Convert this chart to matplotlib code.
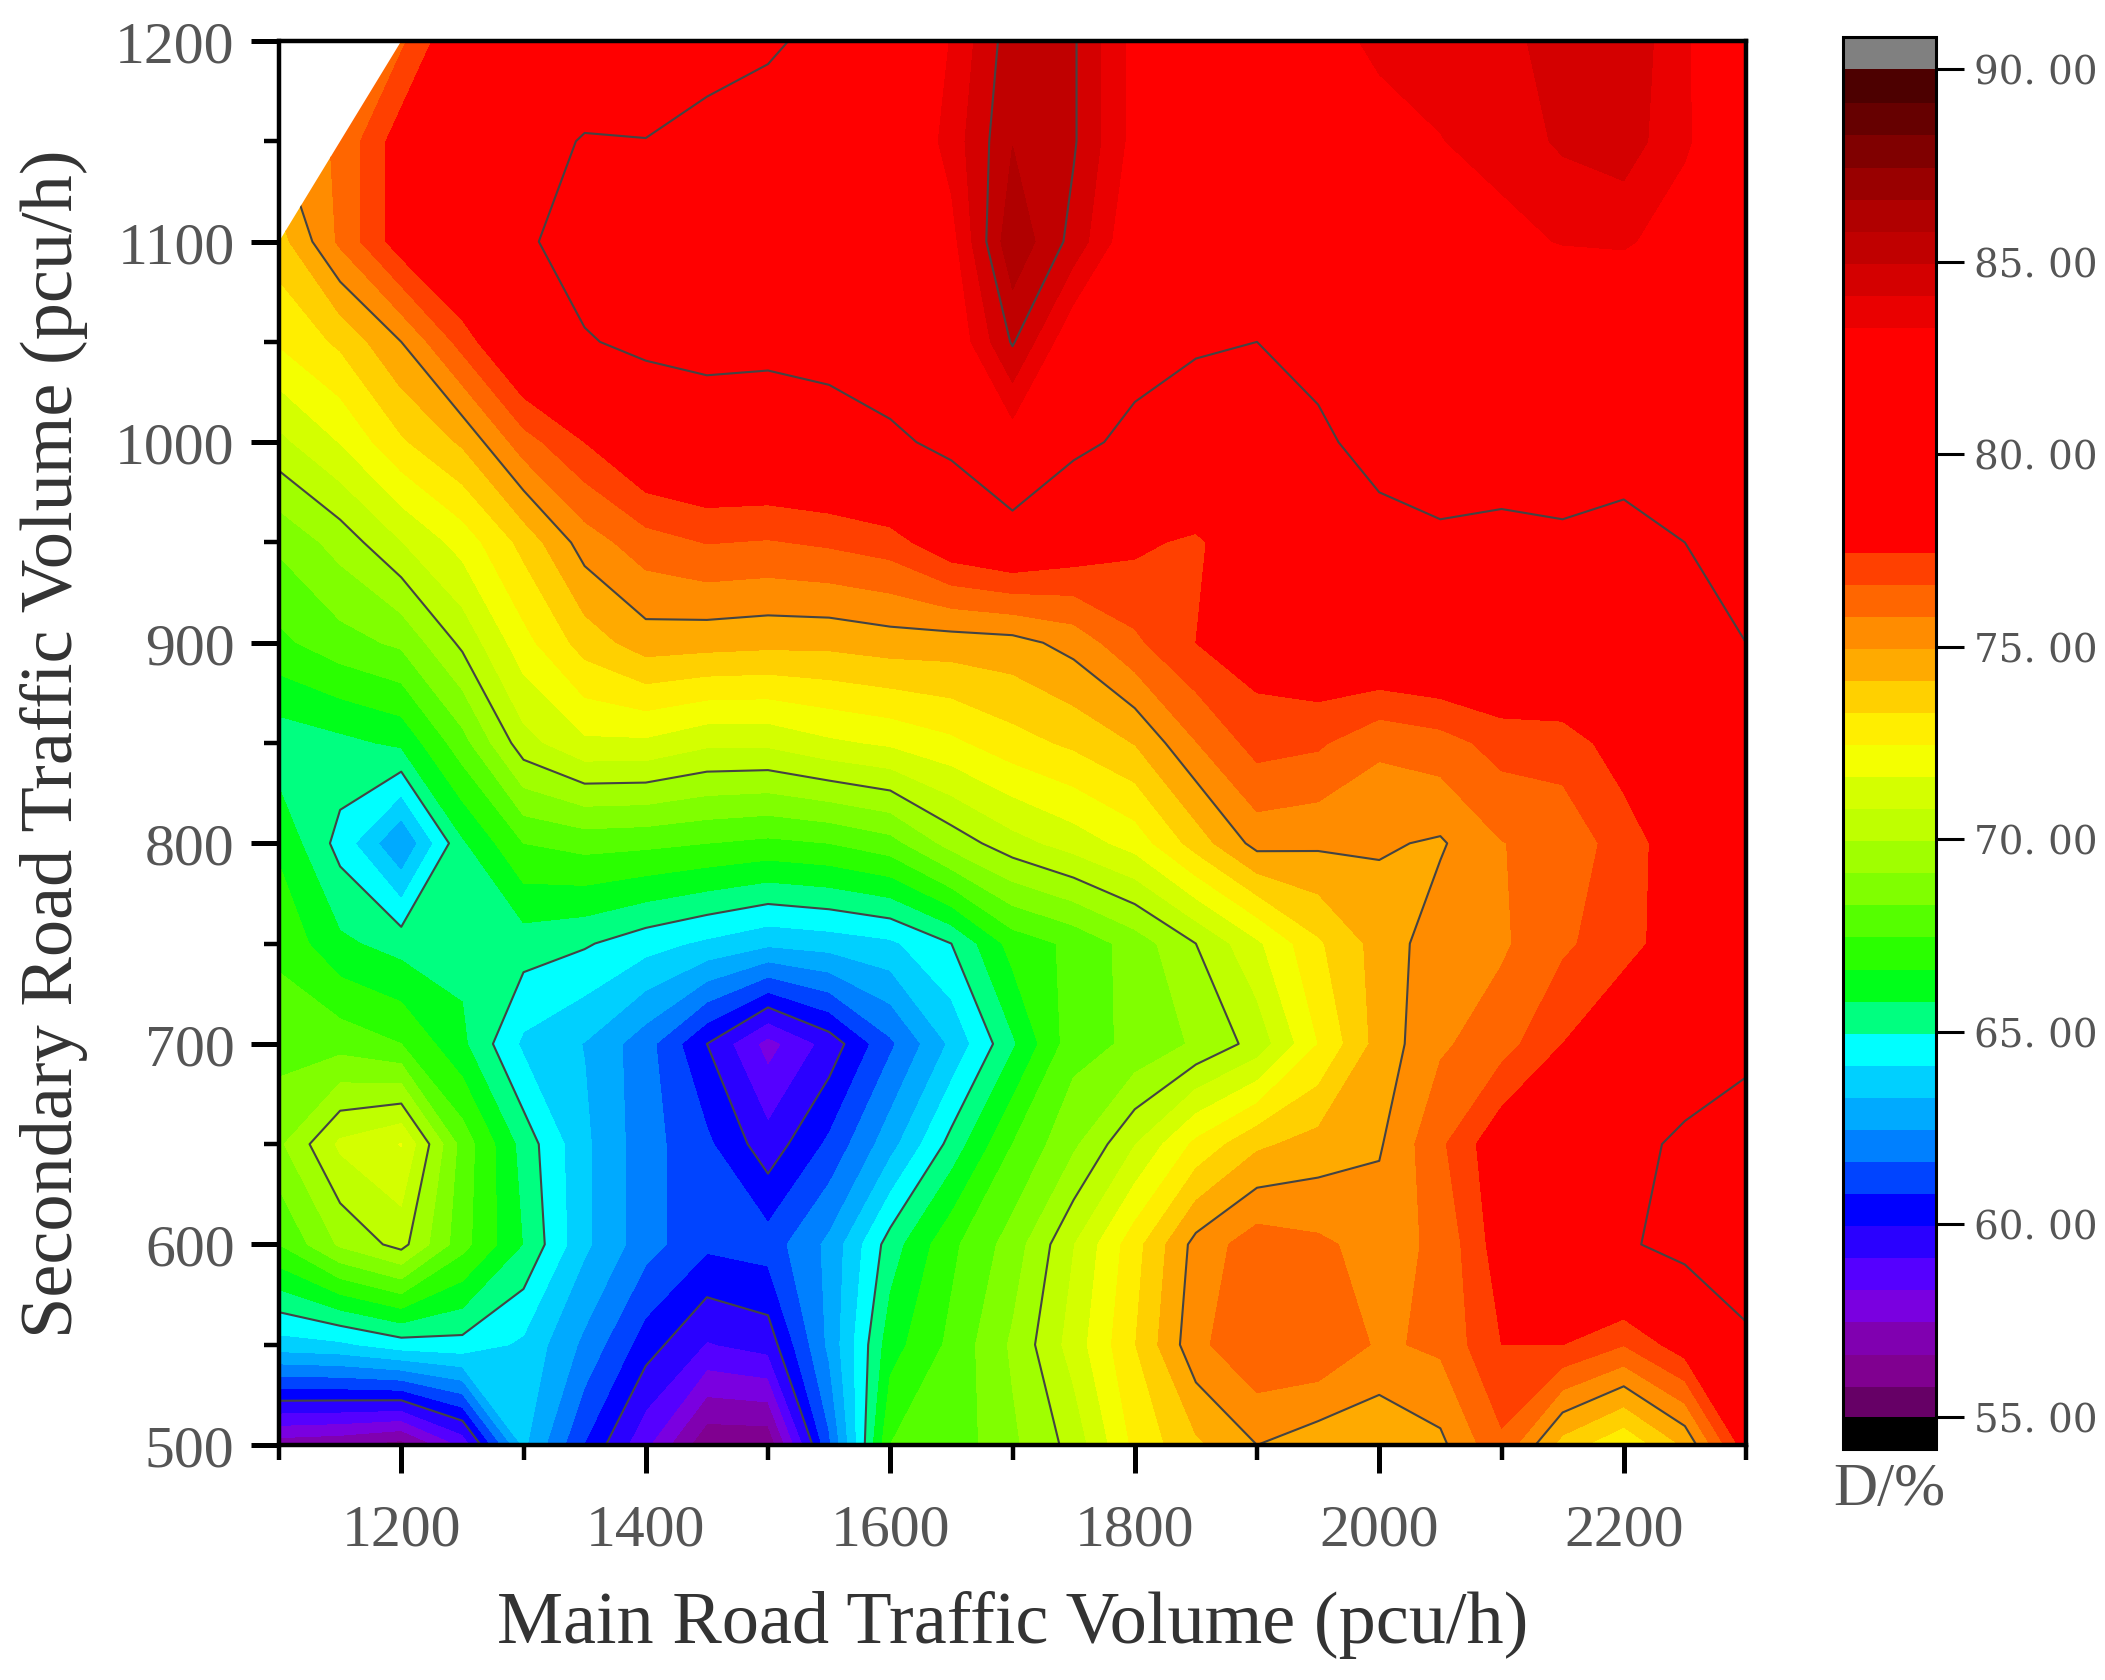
import matplotlib
matplotlib.use("Agg")
import matplotlib.pyplot as plt
import numpy as np
from matplotlib.colors import BoundaryNorm, ListedColormap
from matplotlib.patches import Polygon
from matplotlib.ticker import FuncFormatter, MultipleLocator

main_volume = [1100, 1150, 1200, 1250, 1300, 1350, 1400, 1450, 1500, 1550, 1600, 1650, 1700,
               1750, 1800, 1850, 1900, 1950, 2000, 2050, 2100, 2150, 2200, 2250, 2300]
secondary_volume = [500, 550, 600, 650, 700, 750, 800, 850, 900, 950, 1000, 1050, 1100, 1150, 1200]

# one row per secondary volume, bottom to top
d_500 = [57.0, 56.8, 56.3, 58.5, 63.5, 60.8, 58.5, 56.0, 56.0, 61.5, 67.5, 67.8, 69.0,
         70.3, 72.7, 74.0, 75.0, 74.5, 74.3, 74.8, 76.5, 73.8, 72.6, 74.3, 78.0]
d_550 = [63.8, 64.0, 64.6, 64.7, 64.0, 62.3, 60.4, 59.1, 59.5, 62.7, 66.3, 67.7, 69.3,
         71.2, 73.3, 75.6, 76.6, 76.6, 75.7, 76.0, 77.5, 77.5, 76.7, 78.0, 79.7]
d_600 = [67.5, 69.3, 70.3, 67.8, 65.8, 63.5, 62.0, 61.0, 61.2, 62.7, 65.4, 67.3, 68.7,
         70.8, 73.0, 75.3, 76.3, 76.0, 75.5, 76.0, 78.0, 79.0, 79.8, 80.5, 81.0]
d_650 = [69.0, 71.0, 71.7, 68.0, 65.5, 63.5, 62.0, 61.0, 59.5, 61.0, 63.0, 65.3, 67.5,
         69.0, 70.8, 72.7, 74.0, 74.5, 74.9, 76.5, 78.2, 78.7, 79.5, 80.3, 81.0]
d_700 = [68.0, 68.0, 67.5, 66.0, 64.0, 63.3, 62.0, 60.0, 58.0, 59.5, 61.5, 63.5, 65.7,
         68.0, 68.5, 69.3, 70.3, 72.5, 74.5, 75.7, 76.3, 77.5, 78.3, 79.0, 79.5]
d_750 = [67.3, 66.0, 65.5, 65.6, 65.4, 65.1, 64.5, 64.0, 63.5, 63.7, 64.0, 65.0, 67.0,
         67.7, 68.7, 70.0, 71.5, 73.2, 74.5, 75.5, 75.7, 76.5, 77.2, 78.0, 79.0]
d_800 = [66.5, 64.7, 62.5, 65.7, 67.5, 67.8, 67.7, 67.5, 67.3, 67.5, 68.0, 69.5, 70.5,
         71.2, 72.0, 73.7, 75.3, 75.15, 75.1, 74.9, 75.8, 76.2, 77.0, 78.2, 79.0]
d_850 = [65.3, 65.6, 66.0, 68.0, 70.5, 71.5, 71.5, 71.0, 71.0, 71.5, 71.8, 72.3, 73.0,
         73.5, 74.2, 75.8, 77.0, 76.8, 76.0, 76.3, 77.0, 77.0, 78.0, 79.0, 79.7]
d_900 = [67.3, 68.0, 68.5, 70.2, 72.2, 73.7, 74.6, 74.5, 74.4, 74.4, 74.6, 74.6, 74.7,
         75.3, 76.5, 77.5, 78.0, 78.5, 78.8, 79.0, 79.0, 79.3, 79.5, 79.8, 80.0]
d_950 = [68.5, 69.5, 70.8, 72.0, 73.6, 75.4, 76.3, 76.7, 76.6, 76.8, 77.1, 78.2, 78.7,
         78.2, 77.7, 77.3, 78.5, 79.0, 79.4, 79.7, 79.6, 79.7, 79.7, 80.0, 81.0]
d_1000 = [70.6, 71.7, 73.2, 74.3, 76.3, 77.5, 78.7, 79.0, 79.0, 79.2, 79.7, 80.4, 82.8,
          80.4, 79.6, 79.5, 79.3, 79.7, 80.6, 81.0, 80.8, 81.0, 80.4, 80.6, 81.0]
d_1050 = [72.6, 73.5, 75.0, 77.0, 79.0, 79.9, 80.3, 80.5, 80.4, 80.6, 81.0, 82.5, 85.1,
          82.5, 80.6, 80.1, 80.0, 80.5, 81.0, 81.0, 81.5, 81.5, 81.5, 81.3, 81.0]
d_1100 = [73.8, 76.0, 78.0, 79.3, 79.8, 80.6, 81.0, 81.2, 81.3, 81.3, 81.5, 83.0, 86.5,
          84.7, 82.5, 81.7, 81.5, 81.5, 81.7, 82.0, 83.0, 83.4, 83.5, 82.7, 81.0]
d_1150 = [75.0, 76.0, 78.0, 78.8, 79.4, 80.1, 80.05, 80.4, 81.0, 81.5, 82.0, 83.7, 85.8,
          85.1, 83.0, 82.7, 82.5, 82.7, 83.0, 83.3, 83.7, 84.3, 84.6, 83.5, 82.0]
d_1200 = [75.0, 76.0, 76.5, 78.5, 78.7, 78.9, 78.5, 79.5, 79.7, 80.6, 81.5, 83.4, 85.5,
          85.1, 83.0, 82.7, 82.5, 83.0, 83.5, 83.7, 84.0, 84.4, 84.8, 83.5, 81.5]

d_rows = [d_500, d_550, d_600, d_650, d_700, d_750, d_800, d_850, d_900, d_950, d_1000,
          d_1050, d_1100, d_1150, d_1200]

# part of the plane that holds data (upper left corner is empty)
data_x = [1100, 1200, 2300, 2300, 1100]
data_y = [1100, 1200, 1200, 500, 500]

band_colors = [
    "#660066", "#800090", "#8000b0", "#7a00e0", "#5500ff", "#2a00ff",
    "#0000ff", "#0044ff", "#0080ff", "#00aaff", "#00d0ff", "#00ffff",
    "#00ff80", "#00ff1a", "#2aff00", "#55ff00", "#80ff00", "#a0ff00",
    "#bfff00", "#d4ff00", "#f4ff00", "#ffee00", "#ffd000", "#ffaa00",
    "#ff8c00", "#ff6600", "#ff4000", "#ff0000", "#ff0000", "#ff0000",
    "#ff0000", "#ff0000", "#ff0000", "#ff0000", "#ea0000", "#d40000",
    "#c00000", "#b00000", "#990000", "#800000", "#660000", "#4d0000",
]
line_levels = [60, 65, 70, 75, 80, 85]
cbar_ticks = [55, 60, 65, 70, 75, 80, 85, 90]

W, H = 2105, 1681
levels = np.linspace(55, 90, 43)
cmap = ListedColormap(band_colors)
cmap.set_under("black")
cmap.set_over("#808080")
norm = BoundaryNorm(levels, cmap.N)

plt.rcParams["font.family"] = ["Liberation Serif"]
fig = plt.figure(figsize=(W / 100, H / 100), dpi=100)
ax = fig.add_axes([279 / W, 1 - 1446 / H, (1746 - 279) / W, (1446 - 42) / H])

z = np.array(d_rows)
cf = ax.contourf(main_volume, secondary_volume, z, levels=levels, cmap=cmap, norm=norm, extend="both")
cl = ax.contour(main_volume, secondary_volume, z, levels=line_levels, colors="#444444", linewidths=1.5)
clip = Polygon(np.column_stack([data_x, data_y]), transform=ax.transData)
cf.set_clip_path(clip)
cl.set_clip_path(clip)

ax.set_xlim(1100, 2300)
ax.set_ylim(500, 1200)
ax.xaxis.set_major_locator(MultipleLocator(200))
ax.xaxis.set_minor_locator(MultipleLocator(100))
ax.yaxis.set_major_locator(MultipleLocator(100))
ax.yaxis.set_minor_locator(MultipleLocator(50))
ax.tick_params(axis="both", which="major", length=20, width=3.6, labelsize=43, labelcolor="#555555")
ax.tick_params(axis="both", which="minor", length=10.5, width=3.2)
ax.tick_params(axis="x", which="major", pad=22)
ax.tick_params(axis="y", which="major", pad=12)
for s in ax.spines.values():
    s.set_linewidth(3.2)

ax.set_xlabel("Main Road Traffic Volume (pcu/h)", fontsize=53.5, color="#333333")
ax.set_ylabel("Secondary Road Traffic Volume (pcu/h)", fontsize=53.5, color="#333333")
ax.xaxis.set_label_coords(0.5, -0.103)
ax.yaxis.set_label_coords(-0.13, 0.5)

cax = fig.add_axes([1843 / W, 1 - 1450 / H, (1936 - 1843) / W, (1450 - 38) / H])
cb = fig.colorbar(cf, cax=cax, ticks=cbar_ticks, extend="both", extendrect=True,
                  extendfrac=0.024, drawedges=False)
cb.outline.set_linewidth(2.2)
cb.solids.set_edgecolor("face")
cax.yaxis.set_major_formatter(FuncFormatter(lambda v, p: f"{v:.2f}".replace(".", ". ")))
cax.tick_params(axis="y", length=20, width=2.2, pad=7, labelsize=28, labelcolor="#555555")
for t in cax.get_yticklabels():
    t.set_fontfamily("DejaVu Serif")
cax.minorticks_off()
cax.text(0.5, -0.054, "D/%", transform=cax.transAxes, ha="center", va="center",
         fontsize=44, color="#555555")

fig.savefig("out.png", dpi=100)
